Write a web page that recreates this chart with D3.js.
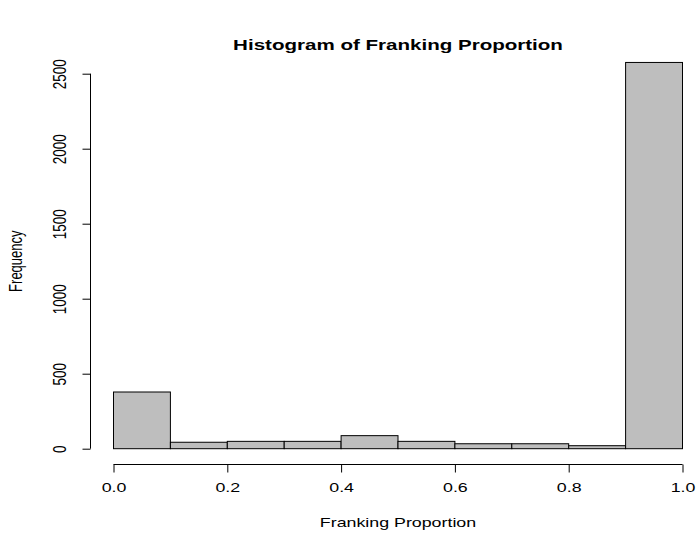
<!DOCTYPE html>
<html>
<head>
<meta charset="utf-8">
<script src="https://cdn.jsdelivr.net/npm/d3@7"></script>
<style>
  body { margin: 0; background: #fff; }
  text { font-family: "Liberation Sans", Arial, Helvetica, sans-serif; fill: #000; }
</style>
</head>
<body>
<div id="chart"></div>
<script>
// histogram bins (lower edges), counts and tick labels
var binStarts = [0.0, 0.1, 0.2, 0.3, 0.4, 0.5, 0.6, 0.7, 0.8, 0.9];
var binWidth = 0.1;
var counts = [378, 43, 49, 49, 87, 49, 33, 33, 20, 2575];
var xTicks = [0.0, 0.2, 0.4, 0.6, 0.8, 1.0];
var yTicks = [0, 500, 1000, 1500, 2000, 2500];

var wdim = 696, hdim = 536;
var plot = { left: 113.5, right: 682.5, bottom: 448.7, top: 73.7 };
var stretch = 1.37; // the reference text is drawn horizontally widened

var svg = d3.select("#chart").append("svg")
  .attr("width", wdim)
  .attr("height", hdim);

var x = d3.scaleLinear().domain([0, 1]).range([plot.left, plot.right]);
var y = d3.scaleLinear().domain([0, 2500]).range([plot.bottom, plot.top]);

// bars
svg.selectAll("rect.bar")
  .data(binStarts)
  .enter().append("rect")
  .attr("class", "bar")
  .attr("x", function(d) { return x(d); })
  .attr("width", function(d) { return x(d + binWidth) - x(d); })
  .attr("y", function(d, i) { return y(counts[i]); })
  .attr("height", function(d, i) { return y(0) - y(counts[i]); })
  .attr("fill", "#bebebe")
  .attr("stroke", "#000")
  .attr("stroke-width", 1);

// x axis, R style: line only between first and last tick
var xAxis = svg.append("g")
  .attr("transform", "translate(0,464.5)")
  .call(d3.axisBottom(x).tickValues(xTicks).tickSizeOuter(0).tickSize(8).tickPadding(10)
    .tickFormat(d3.format(".1f")));
xAxis.select(".domain").remove();
xAxis.append("line")
  .attr("x1", x(xTicks[0])).attr("x2", x(xTicks[xTicks.length - 1]))
  .attr("stroke", "#000");
xAxis.selectAll("text")
  .style("font-size", "13px")
  .attr("fill", "#000")
  .attr("transform", "scale(" + stretch + ",1)");

// y axis with rotated labels
var yAxis = svg.append("g")
  .attr("transform", "translate(90.5,0)")
  .call(d3.axisLeft(y).tickValues(yTicks).tickSizeOuter(0).tickSize(8).tickFormat(d3.format("d")));
yAxis.select(".domain").remove();
yAxis.append("line")
  .attr("y1", y(yTicks[0])).attr("y2", y(yTicks[yTicks.length - 1]))
  .attr("stroke", "#000");
yAxis.selectAll(".tick text")
  .style("font-size", "13.5px")
  .attr("fill", "#000")
  .attr("x", null).attr("dy", null)
  .attr("text-anchor", "middle")
  .attr("transform", "translate(-25,0) scale(" + stretch + ",1) rotate(-90)");

// titles
svg.append("text")
  .attr("transform", "translate(" + ((plot.left + plot.right) / 2) + ",50) scale(" + stretch + ",1)")
  .attr("text-anchor", "middle")
  .style("font-size", "15px")
  .style("font-weight", "bold")
  .text("Histogram of Franking Proportion");

svg.append("text")
  .attr("transform", "translate(" + ((plot.left + plot.right) / 2) + ",527) scale(" + stretch + ",1)")
  .attr("text-anchor", "middle")
  .style("font-size", "13px")
  .text("Franking Proportion");

svg.append("text")
  .attr("transform", "translate(22," + ((plot.top + plot.bottom) / 2) + ") scale(" + stretch + ",1) rotate(-90)")
  .attr("text-anchor", "middle")
  .style("font-size", "13px")
  .text("Frequency");
</script>
</body>
</html>
